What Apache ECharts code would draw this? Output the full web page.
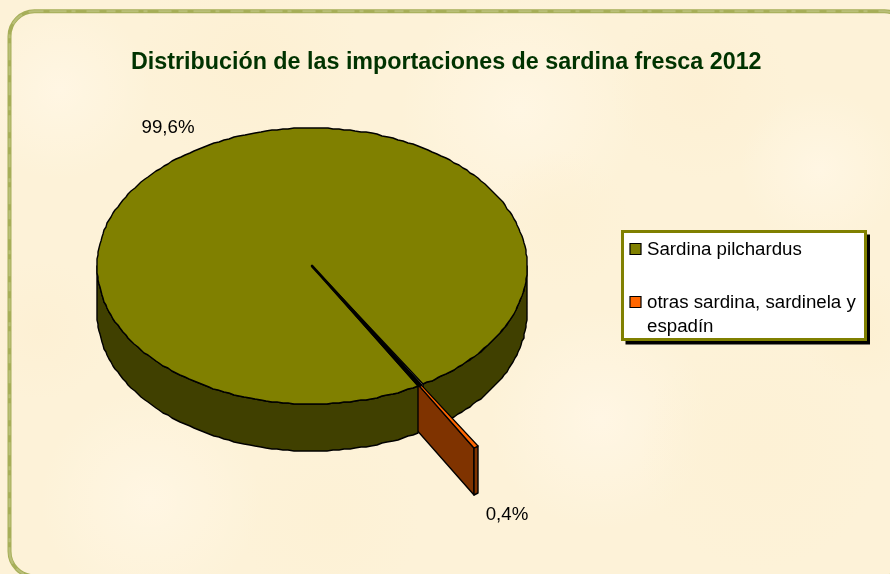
<!DOCTYPE html>
<html><head><meta charset="utf-8">
<style>html,body{margin:0;padding:0;background:#fdf2d8}#c{width:890px;height:574px}</style>
<script src="https://cdn.jsdelivr.net/npm/echarts@6/dist/echarts.min.js"></script>
</head><body><div id="c"></div>
<script>
const titleText = 'Distribución de las importaciones de sardina fresca 2012';
const categories = ['Sardina pilchardus', 'otras sardina, sardinela y\nespadín'];
const values = [99.6, 0.4];
const topColors = ['#808000', '#FF6600'];
const wallColors = ['#404000', '#7F3300'];

const FONT = '"Liberation Sans", Arial, sans-serif';
const TEXT_SIZE = 18.7;
const PIE = { cx: 312, cy: 266, rx: 215, ry: 138, depth: 47, cut: 60.5, explode: 0.515 };
const LEGEND = { x: 622.5, y: 231.5, w: 243, h: 108 };
const LEGEND_ROWS = [249.5, 302.5];
const blotches = [[60,90,90,'#fff6e3'],[250,60,110,'#fdf0d3'],[520,110,120,'#fff6e3'],[700,90,90,'#fdf0d4'],
 [820,170,80,'#fff6e3'],[600,420,110,'#fff6e4'],[760,450,120,'#fdf1d5'],[150,500,110,'#fff6e3'],[40,330,70,'#fdf0d4'],
 [330,520,90,'#fdf1d5'],[860,330,60,'#fdf0d2'],[560,220,70,'#fdf1d5']];
const borderDash = [9,6,17,5,4,11,13,7];

function pct(v){ return v.toFixed(1).replace('.', ',') + '%'; }
const total = values.reduce((a, b) => a + b, 0);
const rad = d => d * Math.PI / 180;
const mainStart = PIE.cut, mainEnd = PIE.cut + 360 * values[0] / total;
const sA = mainEnd - 360, sB = PIE.cut;           // small slice angular range
const sMid = (sA + sB) / 2;
const ex = PIE.explode * PIE.rx * Math.cos(rad(sMid)), ey = PIE.explode * PIE.ry * Math.sin(rad(sMid));

function rim(t, dx, dy){ return [Math.round(PIE.cx + dx + PIE.rx * Math.cos(rad(t))), Math.round(PIE.cy + dy + PIE.ry * Math.sin(rad(t)))]; }
function arc(a, b, dx, dy){ const n = Math.max(1, Math.ceil(Math.abs(b - a) / 1.5)), p = [];
  for (let i = 0; i <= n; i++) p.push(rim(a + (b - a) * i / n, dx, dy)); return p; }
const poly = (points, fill, z2, lw) => ({ type: 'polygon', z2, shape: { points }, style: { fill, stroke: '#000', lineWidth: lw == null ? 1.4 : lw, lineJoin: 'round' } });
const wall = (a, b, fill, z2, dx, dy) => { const top = arc(a, b, dx, dy); const bot = top.map(p => [p[0], p[1] + PIE.depth]).reverse(); return poly(top.concat(bot), fill, z2); };

function renderItem(params){
  const i = params.dataIndex, kids = [];
  if (i === 0) {
    kids.push(wall(0, sA, wallColors[0], 1, 0, 0));
    kids.push(wall(sB, 180, wallColors[0], 5, 0, 0));
    kids.push(poly(arc(mainStart, mainEnd, 0, 0).concat([[PIE.cx, PIE.cy]]), topColors[0], 6));
    kids.push(poly([[PIE.cx, PIE.cy]].concat(arc(sMid - 0.35, sMid + 0.35, 0, 0)), '#000', 7, 2.6));
    const a = rim(mainStart + (mainEnd - mainStart) / 2, 0, 0);
    kids.push({ type: 'text', z2: 8, style: { x: a[0] - 36, y: a[1] - 19, text: pct(values[0]), font: TEXT_SIZE + 'px ' + FONT, fill: '#000', align: 'center', verticalAlign: 'middle' } });
  } else {
    const apex = [PIE.cx + ex, PIE.cy + ey];
    const rb = rim(sB, ex, ey);
    kids.push(poly([apex, rb, [rb[0], rb[1] + PIE.depth], [apex[0], apex[1] + PIE.depth]], wallColors[1], 2));
    kids.push(wall(sA, sB, wallColors[1], 3, ex, ey));
    kids.push(poly([apex].concat(arc(sA, sB, ex, ey)), topColors[1], 4, 1.2));
    kids.push({ type: 'text', z2: 8, style: { x: rb[0] + 33, y: rb[1] + PIE.depth + 20, text: pct(values[1]), font: TEXT_SIZE + 'px ' + FONT, fill: '#000', align: 'center', verticalAlign: 'middle' } });
  }
  return { type: 'group', children: kids };
}

const graphics = [{ type: 'rect', silent: true, z: -3, shape: { x: 0, y: 0, width: 890, height: 574 }, style: { fill: '#fdf2d8' } }];
blotches.forEach(b => graphics.push({ type: 'circle', silent: true, z: -2, shape: { cx: b[0], cy: b[1], r: b[2] },
  style: { fill: new echarts.graphic.RadialGradient(0.5, 0.5, 0.5, [{ offset: 0, color: b[3] }, { offset: 1, color: b[3] + '00' }]) } }));
const frame = { x: 9.5, y: 11.3, width: 900, height: 565, r: 25 };
graphics.push({ type: 'rect', silent: true, z: -1, shape: frame, style: { fill: 'transparent', stroke: '#a6ae58', lineWidth: 4 } });
graphics.push({ type: 'rect', silent: true, z: -1, shape: frame, style: { fill: 'transparent', stroke: '#b9bf78', lineWidth: 2, lineDash: borderDash } });
// legend
graphics.push({ type: 'rect', silent: true, z: 3, shape: { x: LEGEND.x + 3, y: LEGEND.y + 3, width: LEGEND.w + 1.5, height: LEGEND.h + 2 }, style: { fill: '#000' } });
graphics.push({ type: 'rect', silent: true, z: 4, shape: { x: LEGEND.x, y: LEGEND.y, width: LEGEND.w, height: LEGEND.h }, style: { fill: '#fff', stroke: '#808000', lineWidth: 3 } });
categories.forEach((c, i) => {
  graphics.push({ type: 'rect', silent: true, z: 5, shape: { x: 630, y: LEGEND_ROWS[i] - 6, width: 11, height: 11 }, style: { fill: topColors[i], stroke: '#000', lineWidth: 1.2 } });
  c.split('\n').forEach((line, j) => graphics.push({ type: 'text', silent: true, z: 5, style: { x: 647, y: LEGEND_ROWS[i] + j * 24, text: line, font: TEXT_SIZE + 'px ' + FONT, fill: '#000', verticalAlign: 'middle' } }));
});

const chart = echarts.init(document.getElementById('c'), null, { renderer: 'canvas' });
chart.setOption({
  animation: false,
  title: { text: titleText, left: 131, top: 51, textStyle: { fontFamily: FONT, fontWeight: 'bold', fontSize: 23.3, color: '#003300' }, padding: 0 },
  graphic: graphics,
  series: [{ type: 'custom', coordinateSystem: 'none', silent: true, renderItem,
    data: values.map((v, i) => ({ value: v, name: categories[i] })) }]
});
</script></body></html>
